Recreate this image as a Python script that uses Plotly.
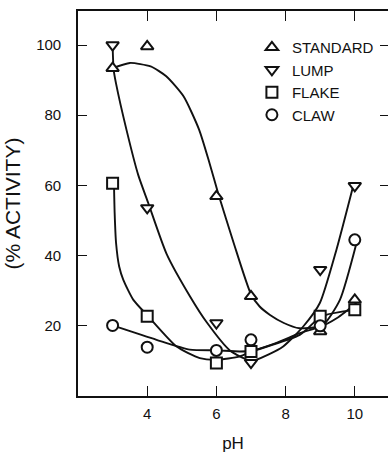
import plotly.graph_objects as go

# ---- measured data points ----
PH = [3, 4, 6, 7, 9, 10]
STANDARD = [93.4, 99.6, 56.9, 28.4, 18.4, 27.4]
LUMP = [100.0, 53.6, 20.8, 9.5, 36.0, 59.9]
FLAKE = [60.6, 22.7, 9.4, 12.7, 22.7, 24.6]
CLAW = [20.1, 13.9, 13.0, 16.0, 20.0, 44.5]

# ---- hand-drawn smooth curves ----
STANDARD_FIT_PH = [3.0, 3.5, 4.1, 4.55, 5.05, 5.5, 5.8, 6.05, 6.5, 7.0, 7.25, 7.55, 7.95, 8.4, 9.0, 9.5, 10.05]
STANDARD_FIT_ACT = [93.4, 94.9, 93.9, 91.1, 85.4, 75.9, 66.4, 57.8, 43.6, 29.0, 25.5, 23.1, 20.8, 19.3, 19.8, 22.3, 26.5]

LUMP_FIT_PH = [3.0, 3.03, 3.1, 3.4, 3.74, 4.03, 4.56, 5.23, 5.72, 6.39, 7.02, 7.5, 7.93, 8.51, 8.99, 9.47, 9.95]
LUMP_FIT_ACT = [100.0, 93.0, 89.0, 75.9, 63.0, 55.0, 40.5, 28.5, 21.0, 13.0, 10.0, 11.8, 14.1, 19.8, 26.5, 41.7, 59.7]

FLAKE_FIT_PH = [3.04, 3.06, 3.1, 3.19, 3.31, 3.6, 4.03, 4.85, 5.52, 6.0, 6.68, 7.03, 8.41, 9.04, 10.05]
FLAKE_FIT_ACT = [60.5, 52.0, 43.6, 36.9, 33.1, 27.4, 22.7, 14.1, 10.8, 10.3, 11.3, 12.7, 17.4, 22.7, 24.6]

CLAW_FIT_PH = [3.0, 4.27, 5.23, 6.0, 6.68, 7.02, 7.7, 8.41, 9.09, 9.57, 10.05]
CLAW_FIT_ACT = [20.1, 16.0, 13.2, 13.0, 12.7, 12.9, 15.0, 17.9, 20.3, 27.4, 43.6]

SERIES_NAMES = ["STANDARD", "LUMP", "FLAKE", "CLAW"]
X_TICKS = [4, 6, 8, 10]
Y_TICKS = [20, 40, 60, 80, 100]

FONT = "Liberation Sans, Arial, sans-serif"
INK = "#111111"

fig = go.Figure()

fits = [
    (STANDARD_FIT_PH, STANDARD_FIT_ACT),
    (LUMP_FIT_PH, LUMP_FIT_ACT),
    (FLAKE_FIT_PH, FLAKE_FIT_ACT),
    (CLAW_FIT_PH, CLAW_FIT_ACT),
]
for fx, fy in fits:
    fig.add_trace(go.Scatter(
        x=fx, y=fy, mode="lines", showlegend=False, hoverinfo="skip",
        line=dict(color=INK, width=1.9, shape="spline", smoothing=0.6),
    ))

symbols = ["triangle-up", "triangle-down", "square", "circle"]
sizes = [11, 11, 11, 11]
values = [STANDARD, LUMP, FLAKE, CLAW]
for name, sym, sz, vals in zip(SERIES_NAMES, symbols, sizes, values):
    fig.add_trace(go.Scatter(
        x=PH, y=vals, mode="markers", name=name, legendgroup=name,
        marker=dict(symbol=sym, size=sz, color="white",
                    line=dict(color=INK, width=2)),
    ))

# invisible trace to activate the top/right overlay axes
fig.add_trace(go.Scatter(x=[None], y=[None], xaxis="x2", yaxis="y2",
                         showlegend=False, hoverinfo="skip"))

XR = [2, 10.96]
YR = [0, 109.7]

fig.update_layout(
    width=388, height=458,
    margin=dict(l=78, r=0, t=11, b=62),
    paper_bgcolor="white", plot_bgcolor="white",
    font=dict(family=FONT, color=INK, size=15),
    showlegend=True,
    legend=dict(
        x=0.561, y=0.948, xanchor="left", yanchor="top",
        bgcolor="rgba(0,0,0,0)", borderwidth=0,
        font=dict(family=FONT, size=15, color=INK),
        traceorder="grouped", tracegroupgap=0,
    ),
    xaxis=dict(
        range=XR, tickvals=X_TICKS, ticktext=[str(v) for v in X_TICKS],
        ticks="inside", ticklen=10, tickwidth=1.4, tickcolor=INK,
        showline=True, linecolor=INK, linewidth=1.6,
        showgrid=False, zeroline=False, ticklabelstandoff=3,
        tickfont=dict(family=FONT, size=15, color=INK),
        title=dict(text="pH", font=dict(family=FONT, size=17, color=INK), standoff=16),
    ),
    yaxis=dict(
        range=YR, tickvals=Y_TICKS, ticktext=[str(v) for v in Y_TICKS],
        ticks="inside", ticklen=9, tickwidth=1.4, tickcolor=INK,
        showline=True, linecolor=INK, linewidth=1.6,
        showgrid=False, zeroline=False, ticklabelstandoff=12,
        tickfont=dict(family=FONT, size=15, color=INK),
        title=dict(text="(% ACTIVITY)", font=dict(family=FONT, size=21, color=INK), standoff=10),
    ),
    xaxis2=dict(
        range=XR, tickvals=X_TICKS, overlaying="x", side="top", anchor="y",
        ticks="inside", ticklen=10, tickwidth=1.4, tickcolor=INK,
        showticklabels=False, showline=True, linecolor=INK, linewidth=1.6,
        showgrid=False, zeroline=False,
    ),
    yaxis2=dict(
        range=YR, tickvals=Y_TICKS, overlaying="y", side="right", anchor="x",
        ticks="inside", ticklen=8, tickwidth=1.4, tickcolor=INK,
        showticklabels=False, showline=False,
        showgrid=False, zeroline=False,
    ),
)

fig.write_html("out.html")
